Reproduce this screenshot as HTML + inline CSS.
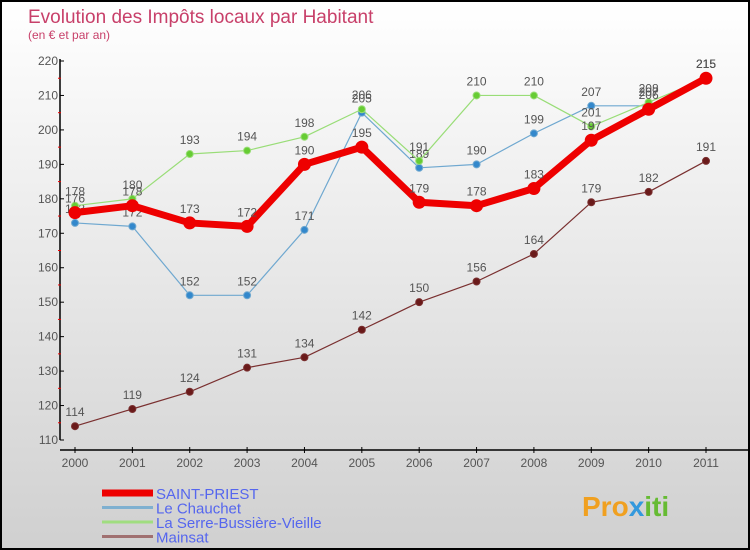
<!DOCTYPE html>
<html><head><meta charset="utf-8">
<style>
html,body{margin:0;padding:0;}
body{width:750px;height:550px;overflow:hidden;font-family:"Liberation Sans",sans-serif;}
#wrap{position:relative;width:746px;height:546px;border:2px solid #000;background:linear-gradient(#ffffff,#d0d0d0);}
</style></head>
<body>
<div id="wrap">
<svg id="chart" width="746" height="546" style="position:absolute;left:0;top:0">
<text x="26" y="21" font-size="19" fill="#c8406a">Evolution des Impôts locaux par Habitant</text>
<text x="26" y="37" font-size="12" fill="#c8406a">(en € et par an)</text>
<g id="axes"></g>
<g id="series"></g>
<g id="legend"></g>
<text x="580" y="514" font-size="28" font-weight="bold" fill="#f0a020">Pro<tspan fill="#3399dd">x</tspan><tspan fill="#66bb33">iti</tspan></text>
</svg>
</div>
<script>
const years = [2000,2001,2002,2003,2004,2005,2006,2007,2008,2009,2010,2011];
const yTicks = [110,120,130,140,150,160,170,180,190,200,210,220];
const saintPriest = [176,178,173,172,190,195,179,178,183,197,206,215];
const chauchet = [173,172,152,152,171,205,189,190,199,207,207,215];
const serre = [178,180,193,194,198,206,191,210,210,201,208,215];
const mainsat = [114,119,124,131,134,142,150,156,164,179,182,191];
const seriesNames = ["SAINT-PRIEST","Le Chauchet","La Serre-Bussière-Vieille","Mainsat"];

const NS="http://www.w3.org/2000/svg";
function xs(i){return 73+i*(704-73)/11;}
function ys(v){return 438-(v-110)*(438-59)/110;}
function mk(tag,attrs,parent){const e=document.createElementNS(NS,tag);for(const k in attrs)e.setAttribute(k,attrs[k]);parent.appendChild(e);return e;}
const axes=document.getElementById('axes');
let ax=mk('line',{x1:58,y1:57,x2:58,y2:438,stroke:'#000','stroke-width':1.5},axes);


let bx=mk('line',{x1:58,y1:448,x2:746,y2:448,stroke:'#000','stroke-width':1.5},axes);


yTicks.forEach((v,i)=>{
  const y=ys(v);
  mk('line',{x1:58,y1:y,x2:62,y2:y,stroke:'#000'},axes);
  if(i<yTicks.length-1)mk('line',{x1:56,y1:y-(ys(110)-ys(115)),x2:59,y2:y-(ys(110)-ys(115)),stroke:'#e00'},axes);
  const t=mk('text',{x:56,y:y+4,'font-size':12,fill:'#555','text-anchor':'end'},axes);
  t.textContent=v;
  
  
});
years.forEach((yr,i)=>{
  const x=xs(i);
  mk('line',{x1:x,y1:445,x2:x,y2:451,stroke:'#000'},axes);
  const t=mk('text',{x:x,y:465,'font-size':12,fill:'#555','text-anchor':'middle'},axes);
  t.textContent=yr;
  
  
});
const sg=document.getElementById('series');
function draw(data,name,color,width,r,dot,labelDy){
  const g=mk('g',{},sg);
  
  
  const pl=mk('polyline',{points:data.map((v,i)=>xs(i)+','+ys(v)).join(' '),fill:'none',stroke:color,'stroke-width':width,'stroke-linejoin':'round'},g);
  
  
  data.forEach((v,i)=>{
    const c=mk('circle',{cx:xs(i),cy:ys(v),r:r,fill:dot,stroke:color,'stroke-width':1},g);
    
    
    const t=mk('text',{x:xs(i),y:ys(v)+labelDy,'font-size':12,fill:'#555','text-anchor':'middle'},g);
    t.textContent=v;
    
    
  });
}
draw(mainsat,'mainsat','#7a3030',1.2,3.5,'#6a1a1a',-10);
draw(chauchet,'le-chauchet','#6fa8d0',1.2,3.5,'#3388cc',-10);
draw(serre,'la-serre','#99dd77',1.2,3.5,'#66cc33',-10);
draw(saintPriest,'saint-priest','#ee0000',7,6,'#ee0000',-10);
const lg=document.getElementById('legend');
const lcol=['#ee0000','#7fb0d0','#a0dd80','#a07070'];
const lw=[7,3,3,3];
seriesNames.forEach((n,i)=>{
  const y=492+i*14.5;
  const g=mk('g',{},lg);
  
  
  mk('line',{x1:100,y1:y-1,x2:151,y2:y-1,stroke:lcol[i],'stroke-width':lw[i]},g);
  const t=mk('text',{x:154,y:y+5,'font-size':15,fill:'#5566ee'},g);
  t.textContent=n;
});
</script>
</body></html>
